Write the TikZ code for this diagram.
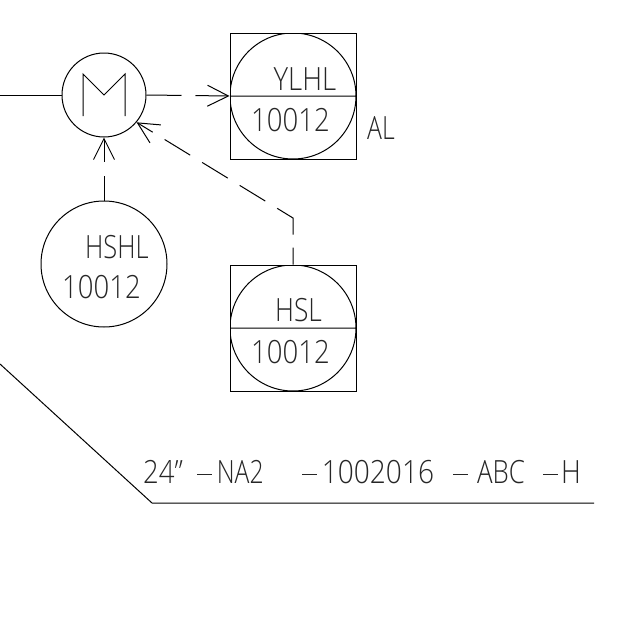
\documentclass[tikz,border=0pt]{standalone}
\usepackage{fontspec}
\setmainfont{Open Sans Light}[BoldFont=Open Sans]
\usetikzlibrary{arrows.meta,positioning}
\newcommand{\ldash}{\rule[8.5pt]{17.4pt}{0.9pt}\hspace{5.5pt}}
\tikzset{
	instr/.style={
		draw, circle, minimum size=126pt, inner sep=0pt, line width=1pt
	},
	motor/.style={
		draw, circle, minimum size=84pt, inner sep=0pt, line width=1pt,
		path picture = {
			\draw[line width=1pt]
			(path picture bounding box.center) ++(-21pt,-21pt) -- ++(0pt,42pt) -- ++(21pt,-21pt) -- ++(21pt,21pt) -- ++(0pt,-42pt);
		}
	},
	shared/.style={
		draw, rectangle, minimum size=126pt, inner sep=0pt, line width=1pt,
		path picture = {
			\draw[line width=1pt]
			(path picture bounding box.center) circle (63pt)
			(path picture bounding box.west) --
			(path picture bounding box.east);
		}
	},
	tag/.style={
		inner sep=0pt, anchor=base west, font=\fontsize{32}{32}\selectfont,
		xscale=0.86, transform shape, text=black!85
	},
	signal/.style={
		line width=1pt, -{Straight Barb[length=21pt,width=21pt,line width=1pt]}
	}
}
\begin{document}
\begin{tikzpicture}[x=1pt,y=-1pt]
	\useasboundingbox (0,0) rectangle (640,640);
	\node[motor]  (M)    at (104,95)  {};
	\node[shared] (YLHL) at (293,96)  {};
	\node[instr]  (HSHL) at (104,264) {};
	\node[shared] (HSL)  at (293,328) {};
	\coordinate (feed) at (0,95);
	\coordinate (bend) at (293,218);
	\coordinate (lineA) at (0,364);
	\coordinate (lineB) at (152,503);
	\coordinate (lineC) at (594,503);
	\draw[line width=1pt] (feed) -- (M);
	\draw[signal, dash pattern=on 35pt off 14pt] (M.east) -- (YLHL.west);
	\draw[signal, dash pattern=on 25pt off 14pt] (HSHL.north) -- (M.south);
	\draw[signal, dash pattern=on 17pt off 13pt on 35pt off 14pt on 30pt off 14pt on 30pt off 14pt on 30pt off 14pt on 40pt off 0pt] (HSL.north) -- (bend) -- (M.-40);
	\draw[line width=1pt] (lineA) -- (lineB) -- (lineC);
	\node[tag] (t1) at (273.5,90)  {YLHL};
	\node[tag] (t2) at (251,131) {10012};
	\node[tag] (t3) at (367,139) [xscale=0.9] {AL};
	\node[tag] (t4) at (85,258) [xscale=0.925] {HSHL};
	\node[tag] (t5) at (62,298)  {10012};
	\node[tag] (t6) at (275,321) [xscale=0.957] {HSL};
	\node[tag] (t7) at (251,363) {10012};
	\node[tag] (t8) at (143,483) {24”};
	\node[tag] (t9) at (197,483) {\ldash\scalebox{0.9}[1]{NA2}};
	\node[tag] (t10) at (302,483) {\ldash\scalebox{1.02}[1]{1002016}};
	\node[tag] (t11) at (453,483) {\ldash\hspace{5pt}\scalebox{0.94}[1]{ABC}};
	\node[tag] (t12) at (543,483) {\ldash\hspace{-2pt}H};
\end{tikzpicture}
\end{document}
